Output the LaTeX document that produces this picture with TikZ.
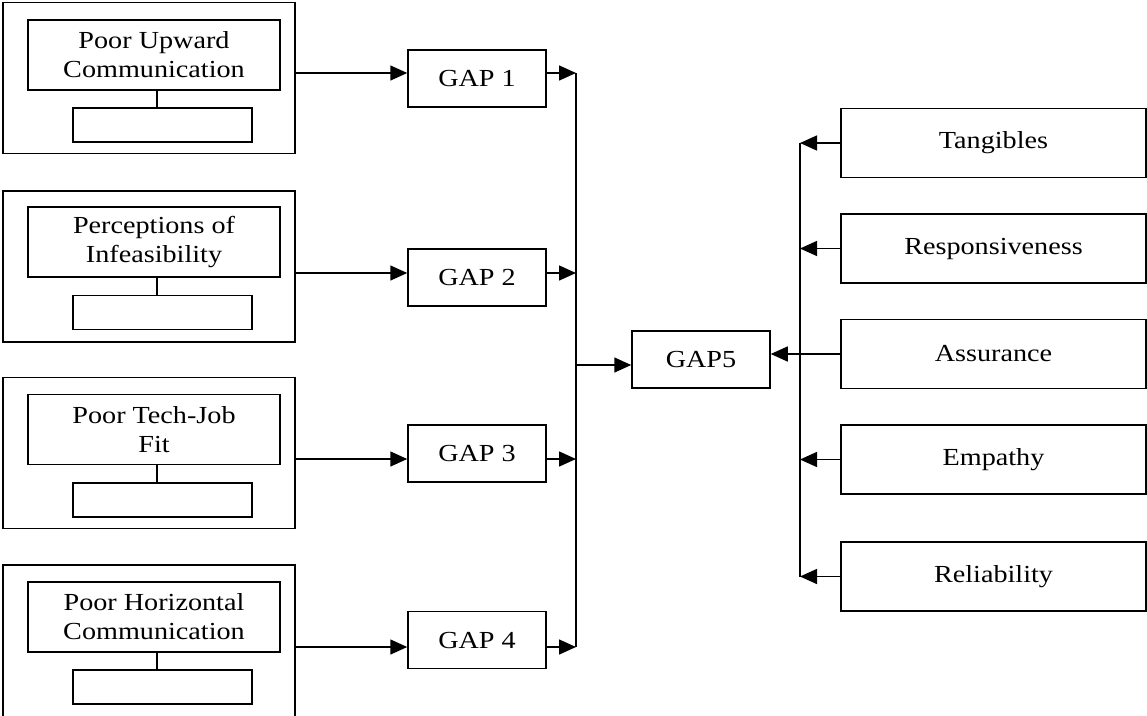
\documentclass[tikz,border=0pt]{standalone}
\usepackage{fontspec}
\setmainfont{Liberation Serif}[FakeStretch=1.15]
\usetikzlibrary{arrows.meta,calc}

\begin{document}
\begin{tikzpicture}[x=1pt,y=-1pt,
  every node/.style={font=\fontsize{24.5}{29}\selectfont},
  box/.style={draw, line width=1.5pt, rectangle, inner sep=0pt, align=center},
  outerbox/.style={box, minimum width=292, minimum height=151},
  causebox/.style={box, minimum width=252, minimum height=70},
  blankbox/.style={box, minimum width=179, minimum height=34},
  gapbox/.style={box, minimum width=138, minimum height=57},
  dimbox/.style={box, minimum width=305, minimum height=69},
  link/.style={line width=1.5pt},
  arr/.style={link, -{Triangle[length=17pt,width=15pt]}}]

\useasboundingbox (0,0) rectangle (1147,715);

% left column: outer frames with cause box and empty box
\foreach \i/\oy/\oh/\sy in {1/78/151/125, 2/266.5/151/312.5, 3/453/151/500, 4/643.5/157/687}{
  \node[outerbox, minimum height=\oh] (out\i) at (149,\oy) {};
  \node[blankbox] (sm\i) at (162.5,\sy) {};
}
\node[causebox] (in1) at (154,55)    {Poor Upward\\Communication};
\node[causebox] (in2) at (154,242)   {Perceptions of\\Infeasibility};
\node[causebox] (in3) at (154,429.5) {Poor Tech-Job\\Fit};
\node[causebox] (in4) at (154,617)   {Poor Horizontal\\Communication};
\foreach \i in {1,...,4}{
  \draw[link] ([xshift=3]in\i.south) -- ([xshift=3]in\i.south |- sm\i.north);
}

% gap boxes
\node[gapbox] (gap1) at (477,78.5)  {GAP 1};
\node[gapbox] (gap2) at (477,277.5) {GAP 2};
\node[gapbox] (gap3) at (477,453.5) {GAP 3};
\node[gapbox] (gap4) at (477,640)   {GAP 4};
\node[gapbox] (gap5) at (701,359.5) {GAP5};

% collecting bus on the left
\coordinate (b1) at (576,73);
\coordinate (b2) at (576,273);
\coordinate (b3) at (576,459);
\coordinate (b4) at (576,647);
\coordinate (bm) at (576,365);
\foreach \i in {1,...,4}{
  \draw[arr] (out\i.east |- b\i) -- (gap\i.west |- b\i);
  \draw[arr] (gap\i.east |- b\i) -- (b\i);
}
\draw[link] (b1) -- (b4);
\draw[arr] (bm) -- (gap5.west |- bm);

% service quality dimensions
\node[dimbox] (tan) at (993.5,143)   {Tangibles};
\node[dimbox] (res) at (993.5,248.5) {Responsiveness};
\node[dimbox] (ass) at (993.5,354)   {Assurance};
\node[dimbox] (emp) at (993.5,459.5) {Empathy};
\node[dimbox] (rel) at (993.5,576.5) {Reliability};

\coordinate (rt) at (800,143);
\coordinate (rb) at (800,577);
\draw[link] (rt) -- (rb);
\draw[arr] (tan.west) -- (tan.west -| rt);
\draw[arr] (res.west) -- (res.west -| rt);
\draw[arr] (ass.west) -- (ass.west -| gap5.east);
\draw[arr] (emp.west) -- (emp.west -| rt);
\draw[arr] (rel.west) -- (rel.west -| rt);
\end{tikzpicture}
\end{document}
